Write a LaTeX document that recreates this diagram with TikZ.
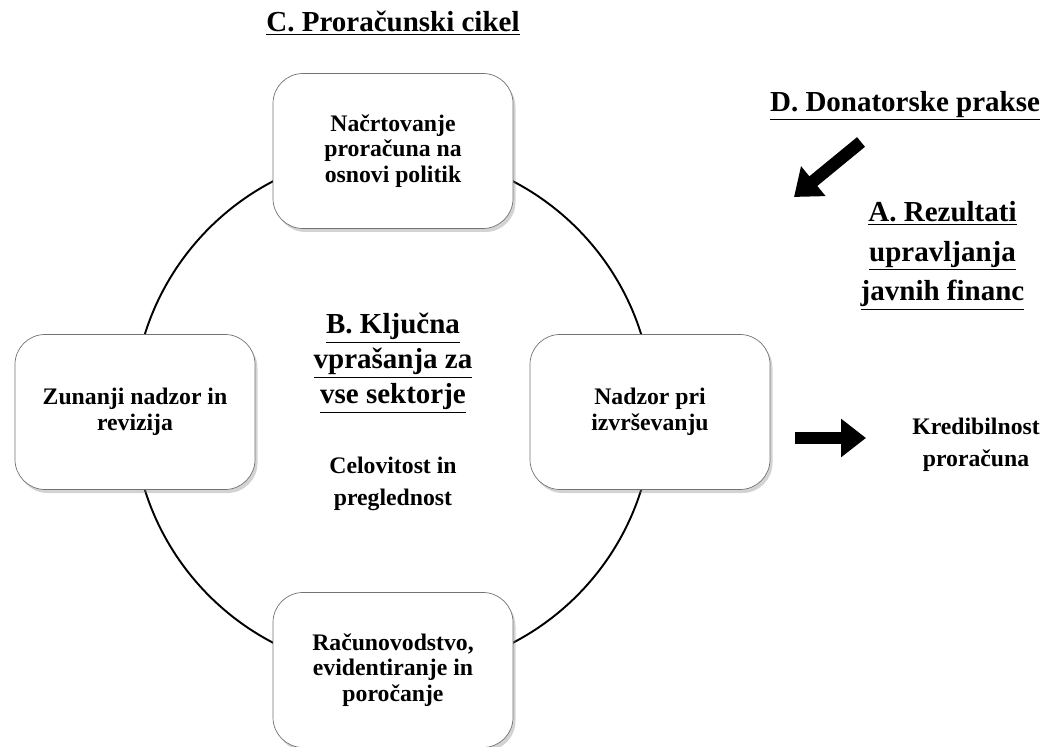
\documentclass[tikz,border=0pt]{standalone}
\usepackage{fontspec}
\setmainfont{Liberation Serif}
\usepackage{tikz}
\usetikzlibrary{positioning, arrows.meta, shadows}
\tikzstyle{stage} = [rectangle, rounded corners=0.6cm, minimum width=4.8cm, minimum height=3.1cm, text centered, align=center, draw=black!55, fill=white, drop shadow={opacity=0.35, shadow xshift=0.05cm, shadow yshift=-0.07cm}, font=\bfseries\fontsize{13.5}{14.5}\selectfont]
\tikzstyle{heading} = [align=center, font=\bfseries\fontsize{16.5}{22.5}\selectfont]
\tikzstyle{keyissue} = [align=center, font=\bfseries\fontsize{16.5}{20}\selectfont]
\tikzstyle{note} = [align=center, font=\bfseries\fontsize{13.5}{18}\selectfont]
\tikzstyle{bigarrow} = [line width=0.25cm, -{Triangle[length=0.5cm,width=0.74cm]}]

\begin{document}
\begin{tikzpicture}[node distance=5.18cm]
        \useasboundingbox (0,0) rectangle (20.9,14.92);

        % Budget cycle
        \coordinate (hub) at (7.86,6.68);
        \draw [line width=1.1pt] (hub) circle (5.2cm);
        \node (planning) [stage, above of=hub, yshift=0.04cm] {Načrtovanje\\proračuna na\\osnovi politik};
        \node (control) [stage, right of=hub, xshift=-0.04cm] {Nadzor pri\\izvrševanju};
        \node (accounting) [stage, below of=hub, yshift=0.02cm] {Računovodstvo,\\evidentiranje in\\poročanje};
        \node (audit) [stage, left of=hub, xshift=0.02cm] {Zunanji nadzor in\\revizija};

        % Titles
        \node (cycle) [heading] at (7.86,14.46) {\underline{C. Proračunski cikel}};
        \node (donors) [heading] at (18.1,12.8) {\underline{D. Donatorske prakse}};
        \node (results) [heading] at (18.85,9.8) {\underline{A. Rezultati}\\\underline{upravljanja}\\\underline{javnih financ}};

        % Inside the circle
        \node (issues) [keyissue] at (7.86,7.66) {\underline{B. Ključna}\\\underline{vprašanja za}\\\underline{vse sektorje}};
        \node (compr) [note, below of=issues, node distance=2.42cm] {Celovitost in\\preglednost};

        % Outcome
        \node (cred) [note] at (19.52,6.02) {Kredibilnost\\proračuna};
        \coordinate (credtail) at (15.9,6.16);
        \coordinate (credtip) at (17.32,6.16);
        \coordinate (dontail) at (17.22,12.08);
        \coordinate (dontip) at (15.88,10.98);

        % Arrows
        \draw [bigarrow] (dontail) -- (dontip);
        \draw [bigarrow] (credtail) -- (credtip);
      \end{tikzpicture}
\end{document}
